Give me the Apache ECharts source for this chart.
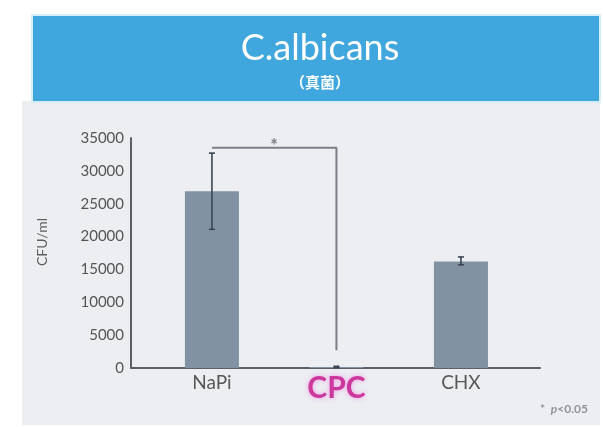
<!DOCTYPE html>
<html>
<head>
<meta charset="utf-8">
<script src="https://cdn.jsdelivr.net/npm/echarts@6/dist/echarts.min.js"></script>
<style>
  html, body { margin: 0; padding: 0; background: #ffffff; }
  #chart { width: 603px; height: 427px; }
</style>
</head>
<body>
<div id="chart"></div>
<script>
// groups on the x axis (index positions 0,1,2)
const categories = ['NaPi', 'CPC', 'CHX'];
// mean CFU/ml
const means = [26900, 150, 16200];
// error bar ranges [low, high]
const errLow = [21100, 60, 15700];
const errHigh = [32700, 260, 16900];
// significance bracket NaPi vs CPC
const bracket = [[0, 33500], [1, 33500], [1, 2700]];
const starAt = [0.5, 33500];
const yTicks = {min: 0, max: 35000, interval: 5000};

const font = "Lato, 'Open Sans', 'Noto Sans', sans-serif";
const chart = echarts.init(document.getElementById('chart'), null, {renderer: 'canvas'});

chart.setOption({
    backgroundColor: '#ffffff',
    animation: false,
    textStyle: {fontFamily: font},
    graphic: [
        // gray panel behind the plot
        {type: 'rect', z: -10, shape: {x: 22, y: 101, width: 578, height: 324},
            style: {fill: '#eceef2'}},
        // blue header band
        {type: 'rect', z: -9, shape: {x: 32, y: 15, width: 568, height: 87},
            style: {fill: '#3fa6de', stroke: '#d6eefa', lineWidth: 2}}
    ],
    title: [
        {
            text: 'C.albicans',
            left: 315, top: 25, textAlign: 'center',
            textStyle: {color: '#ffffff', fontSize: 36, fontWeight: 'normal', fontFamily: font}
        },
        {
            text: '（真菌）',
            left: 315, top: 70, textAlign: 'center',
            textStyle: {color: '#ffffff', fontSize: 15, fontWeight: 'bold',
                fontFamily: "'Noto Sans CJK JP', sans-serif"}
        },
        {
            text: '{a|*  }{b|p}{a|<0.05}',
            right: 10, top: 398,
            textStyle: {
                rich: {
                    a: {color: '#8e939a', fontSize: 12, fontFamily: font},
                    b: {color: '#8e939a', fontSize: 12, fontStyle: 'italic', fontFamily: font}
                }
            }
        }
    ],
    grid: {left: 131, right: 63, top: 138, bottom: 59},
    xAxis: {
        type: 'value',
        min: -0.65,
        max: 2.635,
        axisLine: {show: true, onZero: false, lineStyle: {color: '#5b6068', width: 2}},
        axisTick: {show: false},
        splitLine: {show: false},
        axisLabel: {
            customValues: [0, 1, 2],
            margin: 5,
            color: '#585858',
            fontSize: 19,
            formatter: v => {
                const name = categories[Math.round(v)];
                return name === 'CPC' ? '{cpc|' + name + '}' : name;
            },
            rich: {
                cpc: {color: '#cc399c', fontSize: 30, fontWeight: 'bold', padding: [0, 0, 0, 0],
                    textShadowColor: 'rgba(245,120,225,0.7)', textShadowBlur: 5}
            }
        }
    },
    yAxis: {
        type: 'value',
        min: yTicks.min,
        max: yTicks.max,
        interval: yTicks.interval,
        name: 'CFU/ml',
        nameLocation: 'middle',
        nameGap: 82,
        nameRotate: 90,
        nameTextStyle: {color: '#5e5e5e', fontSize: 14, fontFamily: font, padding: [0, 0, 0, 22]},
        axisLine: {show: true, onZero: false, lineStyle: {color: '#5b6068', width: 2}},
        axisTick: {show: false},
        splitLine: {show: false},
        axisLabel: {color: '#555', fontSize: 15, margin: 7, fontFamily: font,
            formatter: v => String(v)}
    },
    series: [
        {
            type: 'bar',
            barWidth: 54,
            data: means.map((m, i) => [i, m]),
            itemStyle: {color: '#8192a3'},
            z: 2
        },
        {
            type: 'custom',
            z: 3,
            data: errLow.map((lo, i) => [i, lo, errHigh[i]]),
            renderItem: (params, api) => {
                const x = api.value(0);
                const lo = api.coord([x, api.value(1)]);
                const hi = api.coord([x, api.value(2)]);
                const hw = 3;
                const style = {stroke: '#3b4554', lineWidth: 1.6};
                return {
                    type: 'group',
                    children: [
                        {type: 'line', shape: {x1: lo[0], y1: lo[1], x2: hi[0], y2: hi[1]}, style},
                        {type: 'line', shape: {x1: lo[0] - hw, y1: lo[1], x2: lo[0] + hw, y2: lo[1]}, style},
                        {type: 'line', shape: {x1: hi[0] - hw, y1: hi[1], x2: hi[0] + hw, y2: hi[1]}, style}
                    ]
                };
            }
        },
        {
            type: 'line',
            data: bracket,
            symbol: 'none',
            lineStyle: {color: '#7b8088', width: 2},
            z: 1
        },
        {
            type: 'scatter',
            data: [starAt],
            symbolSize: 0,
            label: {show: true, position: 'top', distance: -7, formatter: '*',
                color: '#5f646c', fontSize: 18, fontWeight: 'bold'}
        }
    ]
});
</script>
</body>
</html>
